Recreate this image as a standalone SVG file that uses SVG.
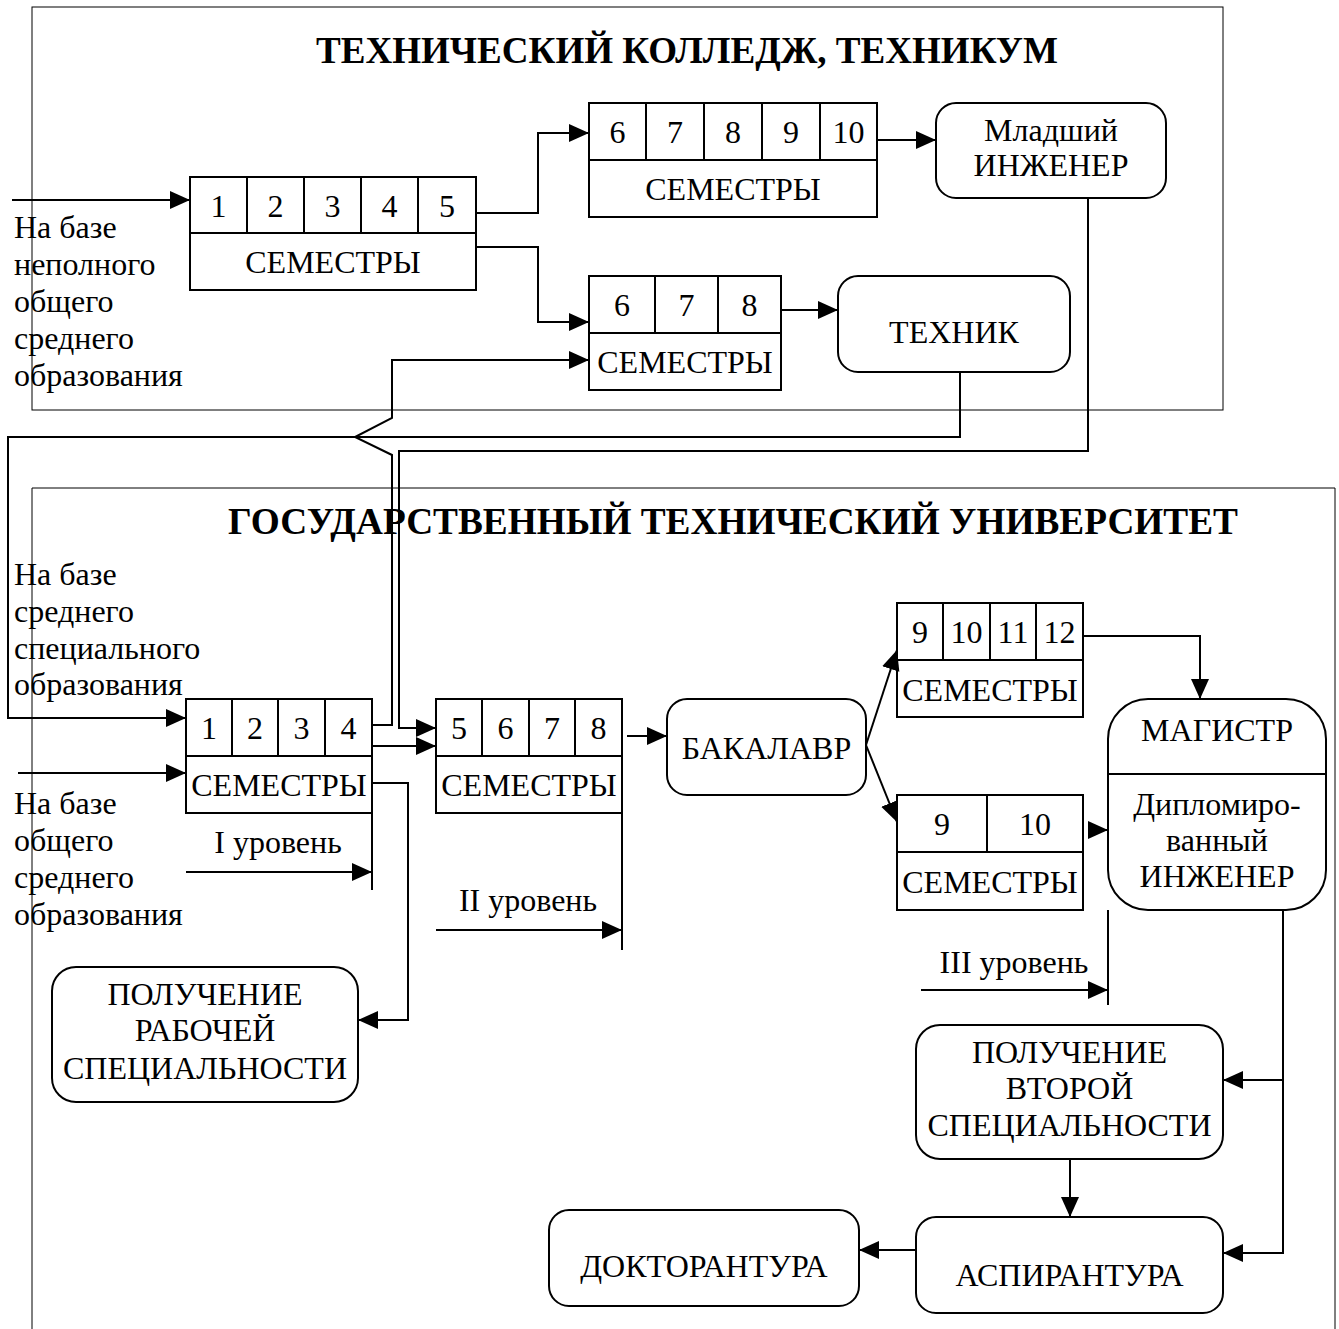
<svg xmlns="http://www.w3.org/2000/svg" width="1339" height="1329" viewBox="0 0 1339 1329">
<style>
text{font-family:"Liberation Serif","Times New Roman",serif;font-size:32px;fill:#000;text-anchor:middle}
.l{text-anchor:start}
.t{font-weight:bold;font-size:37px}
.frame{fill:none;stroke:#000;stroke-width:1}
.box{fill:#fff;stroke:#000;stroke-width:2}
.c{fill:none;stroke:#000;stroke-width:2}
</style>
<defs>
<marker id="ah" markerUnits="userSpaceOnUse" markerWidth="20" markerHeight="20" refX="20" refY="10" orient="auto">
<path d="M0,1 L20,10 L0,19 z" fill="#000"/>
</marker>
</defs>
<rect width="1339" height="1329" fill="#fff"/>
<g id="frame-college">
<rect class="frame" x="32" y="7" width="1191" height="403"/>
<text class="t" x="687" y="63" textLength="742" lengthAdjust="spacingAndGlyphs">ТЕХНИЧЕСКИЙ КОЛЛЕДЖ, ТЕХНИКУМ</text>
</g>
<g id="frame-university">
<path class="frame" d="M32,1329 V488 H1335 V1329"/>
<text class="t" x="733" y="534" textLength="1010" lengthAdjust="spacingAndGlyphs">ГОСУДАРСТВЕННЫЙ ТЕХНИЧЕСКИЙ УНИВЕРСИТЕТ</text>
</g>
<g id="label-nepoln">
<text class="l" x="14" y="238">На базе</text>
<text class="l" x="14" y="275">неполного</text>
<text class="l" x="14" y="312">общего</text>
<text class="l" x="14" y="349">среднего</text>
<text class="l" x="14" y="386">образования</text>
</g>
<g id="label-spec">
<text class="l" x="14" y="585">На базе</text>
<text class="l" x="14" y="622">среднего</text>
<text class="l" x="14" y="659">специального</text>
<text class="l" x="14" y="695">образования</text>
</g>
<g id="label-obsh">
<text class="l" x="14" y="814">На базе</text>
<text class="l" x="14" y="851">общего</text>
<text class="l" x="14" y="888">среднего</text>
<text class="l" x="14" y="925">образования</text>
</g>
<g id="sem-1-5">
<rect class="box" x="190" y="177" width="286" height="113"/>
<path class="c" d="M190,233 H476 M247,177 V233 M304,177 V233 M361,177 V233 M418,177 V233"/>
<text x="218.5" y="217">1</text><text x="275.5" y="217">2</text><text x="332.5" y="217">3</text><text x="389.5" y="217">4</text><text x="447" y="217">5</text>
<text x="333" y="273">СЕМЕСТРЫ</text>
</g>
<g id="sem-6-10">
<rect class="box" x="589" y="103" width="288" height="114"/>
<path class="c" d="M589,160 H877 M646,103 V160 M704,103 V160 M762,103 V160 M820,103 V160"/>
<text x="617.5" y="143">6</text><text x="675" y="143">7</text><text x="733" y="143">8</text><text x="791" y="143">9</text><text x="848.5" y="143">10</text>
<text x="733" y="200">СЕМЕСТРЫ</text>
</g>
<g id="sem-6-8">
<rect class="box" x="589" y="276" width="192" height="114"/>
<path class="c" d="M589,333 H781 M655,276 V333 M718,276 V333"/>
<text x="622" y="316">6</text><text x="686.5" y="316">7</text><text x="749.5" y="316">8</text>
<text x="685" y="373">СЕМЕСТРЫ</text>
</g>
<g id="jr-engineer">
<rect class="box" x="936" y="103" width="230" height="95" rx="20"/>
<text x="1051" y="141">Младший</text>
<text x="1051" y="176">ИНЖЕНЕР</text>
</g>
<g id="technik">
<rect class="box" x="838" y="276" width="232" height="96" rx="20"/>
<text x="954" y="343">ТЕХНИК</text>
</g>
<g id="sem-1-4">
<rect class="box" x="186" y="699" width="186" height="114"/>
<path class="c" d="M186,756 H372 M232,699 V756 M278,699 V756 M325,699 V756"/>
<text x="209" y="739">1</text><text x="255" y="739">2</text><text x="301.5" y="739">3</text><text x="348.5" y="739">4</text>
<text x="279" y="796">СЕМЕСТРЫ</text>
</g>
<g id="sem-5-8">
<rect class="box" x="436" y="699" width="186" height="114"/>
<path class="c" d="M436,756 H622 M482,699 V756 M529,699 V756 M575,699 V756"/>
<text x="459" y="739">5</text><text x="505.5" y="739">6</text><text x="552" y="739">7</text><text x="598.5" y="739">8</text>
<text x="529" y="796">СЕМЕСТРЫ</text>
</g>
<g id="bachelor">
<rect class="box" x="667" y="699" width="199" height="96" rx="20"/>
<text x="766.5" y="759">БАКАЛАВР</text>
</g>
<g id="sem-9-12">
<rect class="box" x="897" y="603" width="186" height="114"/>
<path class="c" d="M897,660 H1083 M943,603 V660 M990,603 V660 M1036,603 V660"/>
<text x="920" y="643">9</text><text x="966.5" y="643">10</text><text x="1013" y="643">11</text><text x="1059.5" y="643">12</text>
<text x="990" y="701">СЕМЕСТРЫ</text>
</g>
<g id="sem-9-10">
<rect class="box" x="897" y="795" width="186" height="115"/>
<path class="c" d="M897,852 H1083 M987,795 V852"/>
<text x="942" y="835">9</text><text x="1035" y="835">10</text>
<text x="990" y="893">СЕМЕСТРЫ</text>
</g>
<g id="master">
<rect class="box" x="1108" y="699" width="218" height="211" rx="40"/>
<path class="c" d="M1108,774 H1326"/>
<text x="1217" y="741">МАГИСТР</text>
<text x="1217" y="815">Дипломиро-</text>
<text x="1217" y="851">ванный</text>
<text x="1217" y="887">ИНЖЕНЕР</text>
</g>
<g id="work-spec">
<rect class="box" x="52" y="967" width="306" height="135" rx="24"/>
<text x="205" y="1005">ПОЛУЧЕНИЕ</text>
<text x="205" y="1041">РАБОЧЕЙ</text>
<text x="205" y="1079">СПЕЦИАЛЬНОСТИ</text>
</g>
<g id="second-spec">
<rect class="box" x="916" y="1025" width="307" height="134" rx="24"/>
<text x="1069.5" y="1063">ПОЛУЧЕНИЕ</text>
<text x="1069.5" y="1099">ВТОРОЙ</text>
<text x="1069.5" y="1136">СПЕЦИАЛЬНОСТИ</text>
</g>
<g id="aspirantura">
<rect class="box" x="916" y="1217" width="307" height="96" rx="20"/>
<text x="1069.5" y="1286">АСПИРАНТУРА</text>
</g>
<g id="doktorantura">
<rect class="box" x="549" y="1210" width="310" height="96" rx="20"/>
<text x="704" y="1277">ДОКТОРАНТУРА</text>
</g>
<g id="levels">
<text x="278" y="853">I уровень</text>
<text x="528" y="911">II уровень</text>
<text x="1014" y="973">III уровень</text>
</g>
<g id="connectors" class="c">
<path class="c" d="M12,200 H190" marker-end="url(#ah)"/>
<path class="c" d="M476,213 H538 V133 H589" marker-end="url(#ah)"/>
<path class="c" d="M476,247 H538 V322 H589" marker-end="url(#ah)"/>
<path class="c" d="M877,140 H936" marker-end="url(#ah)"/>
<path class="c" d="M781,310 H838" marker-end="url(#ah)"/>
<path class="c" d="M960,372 V437 H8 V718 H186" marker-end="url(#ah)"/>
<path class="c" d="M18,773 H186" marker-end="url(#ah)"/>
<path class="c" d="M372,725 H392 V455 L355,437 L392,418 V360 H589" marker-end="url(#ah)"/>
<path class="c" d="M1088,198 V451 H399 V728 H436" marker-end="url(#ah)"/>
<path class="c" d="M372,746 H436" marker-end="url(#ah)"/>
<path class="c" d="M372,783 H408 V1020 H358" marker-end="url(#ah)"/>
<path class="c" d="M372,813 V890"/>
<path class="c" d="M186,872 H372" marker-end="url(#ah)"/>
<path class="c" d="M622,813 V950"/>
<path class="c" d="M436,930 H622" marker-end="url(#ah)"/>
<path class="c" d="M627,736 H667" marker-end="url(#ah)"/>
<path class="c" d="M866,745 L897,650" marker-end="url(#ah)"/>
<path class="c" d="M866,745 L897,822" marker-end="url(#ah)"/>
<path class="c" d="M1083,636 H1200 V699" marker-end="url(#ah)"/>
<path class="c" d="M1088,830 H1108" marker-end="url(#ah)"/>
<path class="c" d="M1108,910 V1005"/>
<path class="c" d="M921,990 H1108" marker-end="url(#ah)"/>
<path class="c" d="M1283,910 V1253 H1223" marker-end="url(#ah)"/>
<path class="c" d="M1283,1080 H1223" marker-end="url(#ah)"/>
<path class="c" d="M1070,1159 V1217" marker-end="url(#ah)"/>
<path class="c" d="M916,1250 H859" marker-end="url(#ah)"/>
</g>
</svg>
